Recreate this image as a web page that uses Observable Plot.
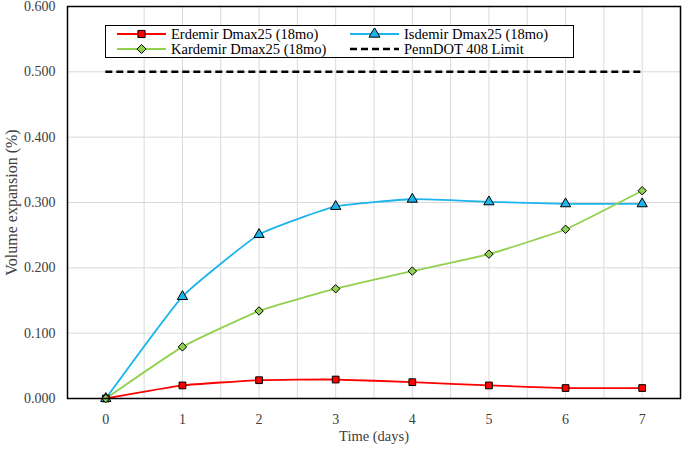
<!DOCTYPE html>
<html><head><meta charset="utf-8">
<script src="https://cdn.jsdelivr.net/npm/d3@7"></script>
<script src="https://cdn.jsdelivr.net/npm/@observablehq/plot@0.6"></script>
<style>
body{margin:0;background:#fff;}
#wrap{position:relative;width:685px;height:449px;font-family:"Liberation Serif","DejaVu Serif",serif;}
#legend{position:absolute;left:105px;top:25px;width:467px;height:31px;border:1px solid #000;background:#fff;}
.item{position:absolute;display:flex;align-items:center;font-family:"Liberation Serif","DejaVu Serif",serif;font-size:14.5px;line-height:14px;color:#000;white-space:nowrap;height:14px;}
.item svg{margin-right:5px;}
</style>
</head><body><div id="wrap"><div id="legend"></div></div>
<script>
const days = [0, 1, 2, 3, 4, 5, 6, 7];
const erdemir = [0.000, 0.020, 0.028, 0.029, 0.025, 0.020, 0.016, 0.016];
const isdemir = [0.000, 0.156, 0.251, 0.294, 0.305, 0.301, 0.298, 0.298];
const kardemir = [0.000, 0.079, 0.134, 0.168, 0.195, 0.221, 0.259, 0.318];
const limitValue = 0.5;
const seriesNames = ["Erdemir Dmax25 (18mo)", "Isdemir Dmax25 (18mo)", "Kardemir Dmax25 (18mo)"];
const limitName = "PennDOT 408 Limit";
const yTicks = [0, 0.1, 0.2, 0.3, 0.4, 0.5, 0.6];
const xTicks = [0, 1, 2, 3, 4, 5, 6, 7];
const xGrid = [0.5, 1, 1.5, 2, 2.5, 3, 3.5, 4, 4.5, 5, 5.5, 6, 6.5, 7];
const colors = ["#ff0000", "#1cb4ec", "#92d050"];
const symbols = ["square", "triangle", "diamond2"];

const seriesValues = [erdemir, isdemir, kardemir];
const rows = seriesValues.flatMap((vals, i) => vals.map((v, j) => ({series: seriesNames[i], day: days[j], value: v})));

const chart = Plot.plot({
  width: 685, height: 449,
  marginLeft: 67, marginRight: 5, marginTop: 6, marginBottom: 51,
  style: {fontFamily: "'Liberation Serif','DejaVu Serif',serif", fontSize: "14px", color: "#000", background: "#fff"},
  x: {domain: [-0.5, 7.5]},
  y: {domain: [0, 0.6]},
  color: {domain: seriesNames, range: colors},
  symbol: {domain: seriesNames, range: symbols},
  marks: [
    Plot.ruleX(xGrid, {stroke: "#d9d9d9", strokeWidth: 1}),
    Plot.ruleY(yTicks.slice(1), {stroke: "#d9d9d9", strokeWidth: 1}),
    Plot.axisX({ticks: xTicks, tickSize: 0, tickPadding: 16, fill: "#404040", fontSize: 14, label: "Time (days)", labelAnchor: "center", labelOffset: 42, labelArrow: "none"}),
    Plot.axisY({ticks: yTicks, tickSize: 0, tickPadding: 12, tickFormat: d3.format(".3f"), fill: "#404040", fontSize: 14, label: "Volume expansion (%)", labelAnchor: "center", labelOffset: 62, labelArrow: "none"}),
    Plot.ruleY([limitValue], {x1: days[0], x2: days[days.length - 1], stroke: "#000", strokeWidth: 2.5, strokeDasharray: "7,4"}),
    Plot.line(rows, {x: "day", y: "value", z: "series", stroke: "series", strokeWidth: 1.8, curve: "cardinal", tension: 0.6}),
    Plot.dot(rows, {x: "day", y: "value", symbol: "series", fill: "series", stroke: "#000", strokeWidth: 1, r: 3.8}),
    Plot.frame({stroke: "#000", strokeWidth: 1.5})
  ]
});
// enlarge the y-axis title (styling only)
const yLab = chart.querySelector('[aria-label="y-axis label"] text');
if (yLab) { yLab.setAttribute("font-size", "16"); yLab.setAttribute("fill", "#404040"); }
const xLab = chart.querySelector('[aria-label="x-axis label"] text');
if (xLab) { xLab.setAttribute("font-size", "14.5"); }
const wrap = document.getElementById("wrap");
wrap.insertBefore(chart, wrap.firstChild);

// legend
const legend = document.getElementById("legend");
const legendItems = [
  {name: seriesNames[0], color: colors[0], symbol: symbols[0], left: 11, top: 1},
  {name: seriesNames[1], color: colors[1], symbol: symbols[1], left: 244, top: 1},
  {name: seriesNames[2], color: colors[2], symbol: symbols[2], left: 11, top: 16},
  {name: limitName, color: "#000", symbol: null, left: 244, top: 16}
];
const symMap = {square: d3.symbolSquare, triangle: d3.symbolTriangle, diamond2: d3.symbolDiamond2};
for (const it of legendItems) {
  const div = document.createElement("div");
  div.className = "item";
  div.style.left = it.left + "px";
  div.style.top = it.top + "px";
  const w = 49;
  let svg = `<svg width="${w}" height="12">`;
  if (it.symbol) {
    svg += `<line x1="0" x2="${w}" y1="6" y2="6" stroke="${it.color}" stroke-width="1.8"/>`;
    const p = d3.symbol(symMap[it.symbol], 52)();
    svg += `<path d="${p}" transform="translate(${w/2},6)" fill="${it.color}" stroke="#000" stroke-width="1"/>`;
  } else {
    svg += `<line x1="0" x2="${w}" y1="6" y2="6" stroke="#000" stroke-width="2.5" stroke-dasharray="7,4"/>`;
  }
  svg += `</svg>`;
  div.innerHTML = svg + `<span>${it.name}</span>`;
  legend.appendChild(div);
}
</script>
</body></html>
